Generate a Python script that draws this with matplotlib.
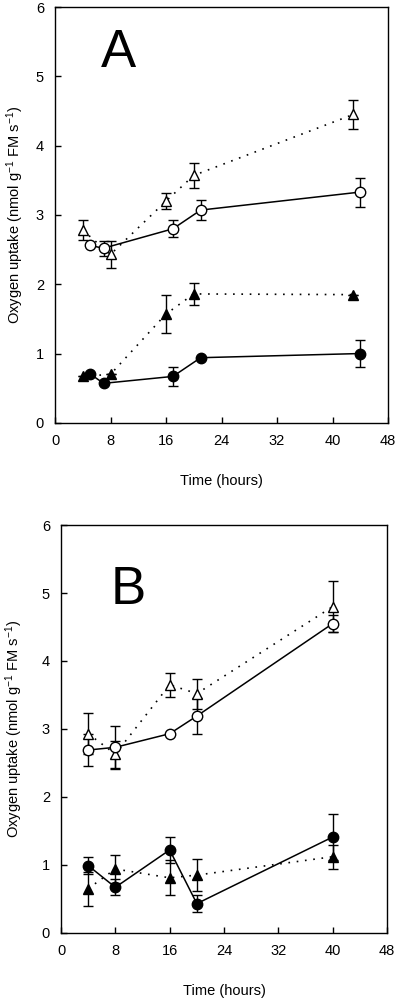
import matplotlib
matplotlib.use("Agg")
import matplotlib.pyplot as plt

plt.rcParams['font.family'] = ['Liberation Sans', 'DejaVu Sans']
plt.rcParams['mathtext.default'] = 'regular'

# Panel A
a_otri_x = [4, 8, 16, 20, 43]
a_otri_y = [2.78, 2.43, 3.20, 3.57, 4.45]
a_otri_e = [0.14, 0.19, 0.12, 0.18, 0.21]
a_ocir_x = [5, 7, 17, 21, 44]
a_ocir_y = [2.56, 2.52, 2.80, 3.07, 3.33]
a_ocir_e = [0.0, 0.11, 0.12, 0.14, 0.21]
a_ftri_x = [4, 8, 16, 20, 43]
a_ftri_y = [0.67, 0.70, 1.57, 1.86, 1.85]
a_ftri_e = [0.0, 0.0, 0.28, 0.16, 0.0]
a_fcir_x = [5, 7, 17, 21, 44]
a_fcir_y = [0.71, 0.57, 0.67, 0.94, 1.00]
a_fcir_e = [0.0, 0.0, 0.14, 0.0, 0.20]

# Panel B
b_x = [4, 8, 16, 20, 40]
b_otri_y = [2.93, 2.63, 3.65, 3.52, 4.80]
b_otri_e = [0.30, 0.20, 0.18, 0.22, 0.38]
b_ocir_y = [2.69, 2.73, 2.93, 3.19, 4.55]
b_ocir_e = [0.23, 0.32, 0.0, 0.26, 0.13]
b_ftri_y = [0.65, 0.94, 0.81, 0.85, 1.12]
b_ftri_e = [0.25, 0.21, 0.26, 0.23, 0.18]
b_fcir_y = [0.99, 0.67, 1.22, 0.43, 1.41]
b_fcir_e = [0.12, 0.12, 0.19, 0.12, 0.34]

x_ticks = [0, 8, 16, 24, 32, 40, 48]
y_ticks = [0, 1, 2, 3, 4, 5, 6]
ylabel = "Oxygen uptake (nmol g$^{-1}$ FM s$^{-1}$)"
xlabel = "Time (hours)"

fig = plt.figure(figsize=(4.0, 10.02), dpi=100)
axA = fig.add_axes([0.1375, 0.578, 0.8325, 0.415])
axB = fig.add_axes([0.1525, 0.069, 0.815, 0.407])

dotted = (0, (1, 4))
ms = 7.5

def series(ax, x, y, e, marker, filled, ls):
    ax.errorbar(x, y, yerr=e, fmt='none', ecolor='black', elinewidth=1,
                capsize=3.5, capthick=1, zorder=2)
    ax.plot(x, y, color='black', linestyle=ls, linewidth=1.1 if ls == '-' else 1.2,
            marker=marker, markersize=ms,
            markerfacecolor='black' if filled else 'white',
            markeredgecolor='black', markeredgewidth=1.0, zorder=3)

series(axA, a_otri_x, a_otri_y, a_otri_e, '^', False, dotted)
series(axA, a_ocir_x, a_ocir_y, a_ocir_e, 'o', False, '-')
series(axA, a_ftri_x, a_ftri_y, a_ftri_e, '^', True, dotted)
series(axA, a_fcir_x, a_fcir_y, a_fcir_e, 'o', True, '-')

series(axB, b_x, b_otri_y, b_otri_e, '^', False, dotted)
series(axB, b_x, b_ocir_y, b_ocir_e, 'o', False, '-')
series(axB, b_x, b_ftri_y, b_ftri_e, '^', True, dotted)
series(axB, b_x, b_fcir_y, b_fcir_e, 'o', True, '-')

for ax, letter, lx, ly, ylp in [(axA, 'A', 0.19, 0.89, 7), (axB, 'B', 0.205, 0.84, 12)]:
    ax.set_xlim(0, 48)
    ax.set_ylim(0, 6)
    ax.set_xticks(x_ticks)
    ax.set_yticks(y_ticks)
    ax.tick_params(direction='in', length=4, width=1, labelsize=10.5, pad=8)
    for s in ax.spines.values():
        s.set_linewidth(1.0)
    ax.set_xlabel(xlabel, fontsize=10.5, labelpad=19)
    ax.set_ylabel(ylabel, fontsize=10.5, labelpad=ylp)
    ax.text(lx, ly, letter, transform=ax.transAxes, fontsize=38,
            ha='center', va='center')

fig.savefig("out.png", dpi=100)
